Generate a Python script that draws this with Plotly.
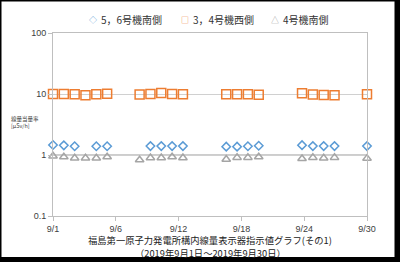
import plotly.graph_objects as go
import numpy as np

# ---- data ----
days = [1, 2, 3, 4, 5, 6, 9, 10, 11, 12, 13, 17, 18, 19, 20, 24, 25, 26, 27, 30]
s56_south = [1.46, 1.44, 1.39, None, 1.39, 1.39, None, 1.40, 1.40, 1.40, 1.40,
             1.37, 1.37, 1.39, 1.42, 1.45, 1.40, 1.40, 1.40, 1.40]
s34_west = [10.0, 10.0, 9.9, 9.5, 9.9, 10.1, 9.8, 10.0, 10.4, 10.0, 9.9,
            9.9, 9.9, 9.9, 9.7, 10.3, 9.8, 9.6, 9.5, 9.9]
s4_south = [0.96, 0.93, 0.89, 0.89, 0.89, 0.93, 0.83, 0.90, 0.90, 0.93, 0.90,
            0.85, 0.91, 0.91, 0.93, 0.87, 0.91, 0.89, 0.91, 0.88]
series_names = ["5，6号機南側", "3，4号機西側", "4号機南側"]
legend_symbols = ["◇", "□", "△"]
x_tick_labels = ["9/1", "9/6", "9/12", "9/18", "9/24", "9/30"]
y_tick_vals = [0.1, 1, 10, 100]
y_tick_labels = ["0.1", "1", "10", "100"]
title_line1 = "福島第一原子力発電所構内線量表示器指示値グラフ(その1)"
title_line2 = "（2019年9月1日～2019年9月30日）"
y_title = "線量当量率<br>[μSv/h]"

W, H = 400, 262
ML, MR, MT, MB = 53, 33, 33, 46

JP = "Noto Sans CJK JP"
LAT = "Liberation Sans"

colors = ["#5B9BD5", "#ED7D31", "#A5A5A5"]
styles = [
    dict(symbol="diamond-open", size=6.5),
    dict(symbol="square-open", size=9),
    dict(symbol="triangle-up-open", size=7.5),
]

fig = go.Figure()
for name, vals, st, c in zip(series_names, [s56_south, s34_west, s4_south], styles, colors):
    fig.add_trace(go.Scatter(
        x=days, y=vals, mode="markers", name=name, cliponaxis=False,
        marker=dict(symbol=st["symbol"], size=st["size"], color=c,
                    line=dict(color=c, width=1.5)),
    ))

fig.add_hline(y=1, line=dict(color="#9A9A9A", width=1), layer="below")

tickpos = list(np.linspace(days[0], days[-1], len(x_tick_labels)))

fig.update_layout(
    width=W, height=H,
    margin=dict(l=ML, r=MR, t=MT, b=MB, autoexpand=False),
    paper_bgcolor="white", plot_bgcolor="white",
    font=dict(family=LAT, size=9, color="#404040"),
    showlegend=False,
    xaxis=dict(range=[days[0], days[-1]], tickvals=tickpos, ticktext=x_tick_labels,
               showgrid=False, zeroline=False, showline=True, linecolor="#BFBFBF",
               linewidth=1, mirror=True, ticks="outside", ticklen=4,
               tickcolor="#BFBFBF", tickfont=dict(family=LAT, size=9, color="#404040")),
    yaxis=dict(type="log", range=[-1, 2], tickvals=y_tick_vals, ticktext=y_tick_labels,
               showgrid=True, gridcolor="#D0D0D0", gridwidth=1,
               zeroline=False, showline=True, linecolor="#BFBFBF", linewidth=1,
               mirror=True, ticks="outside", ticklen=4, tickcolor="#BFBFBF",
               tickfont=dict(family=LAT, size=9, color="#404040")),
)

pw = W - ML - MR
ph = H - MT - MB
def px(xp):
    return (xp - ML) / pw
def py(yp):
    return (H - MB - yp) / ph

# manual legend
legend_sym_x = [93, 185, 275]
for sym, name, c, sx in zip(legend_symbols, series_names, colors, legend_sym_x):
    fig.add_annotation(text=sym, xref="paper", yref="paper", x=px(sx), y=py(20),
                       xanchor="center", yanchor="middle", showarrow=False,
                       font=dict(family=JP, size=8, color=c))
    fig.add_annotation(text=name, xref="paper", yref="paper", x=px(sx + 5.5), y=py(20),
                       xanchor="left", yanchor="middle", showarrow=False,
                       font=dict(family=JP, size=10, color="#333333"))

fig.add_annotation(text=y_title, xref="paper", yref="paper", x=px(25), y=py(122),
                   xanchor="center", yanchor="middle", showarrow=False, align="left",
                   font=dict(family=JP, size=5.5, color="#404040"))
for txt, yy in [(title_line1, 239.5), (title_line2, 253)]:
    fig.add_annotation(text=txt, xref="paper", yref="paper",
                       x=px(210), y=py(yy), xanchor="center", yanchor="middle",
                       showarrow=False, align="center",
                       font=dict(family=JP, size=9.3, color="#222222"))

# outer frame: thin top/left, heavy bottom/right (shadow)
frame = [
    (0, 0, W, 1.5),
    (0, 0, 1.5, H),
    (0, 257, W, H),
    (394.5, 0, W, H),
]
for x0, y0, x1, y1 in frame:
    fig.add_shape(type="rect", xref="paper", yref="paper",
                  x0=px(x0), x1=px(x1), y0=py(y1), y1=py(y0),
                  fillcolor="black", line=dict(width=0), layer="above")

fig.write_html("out.html")
